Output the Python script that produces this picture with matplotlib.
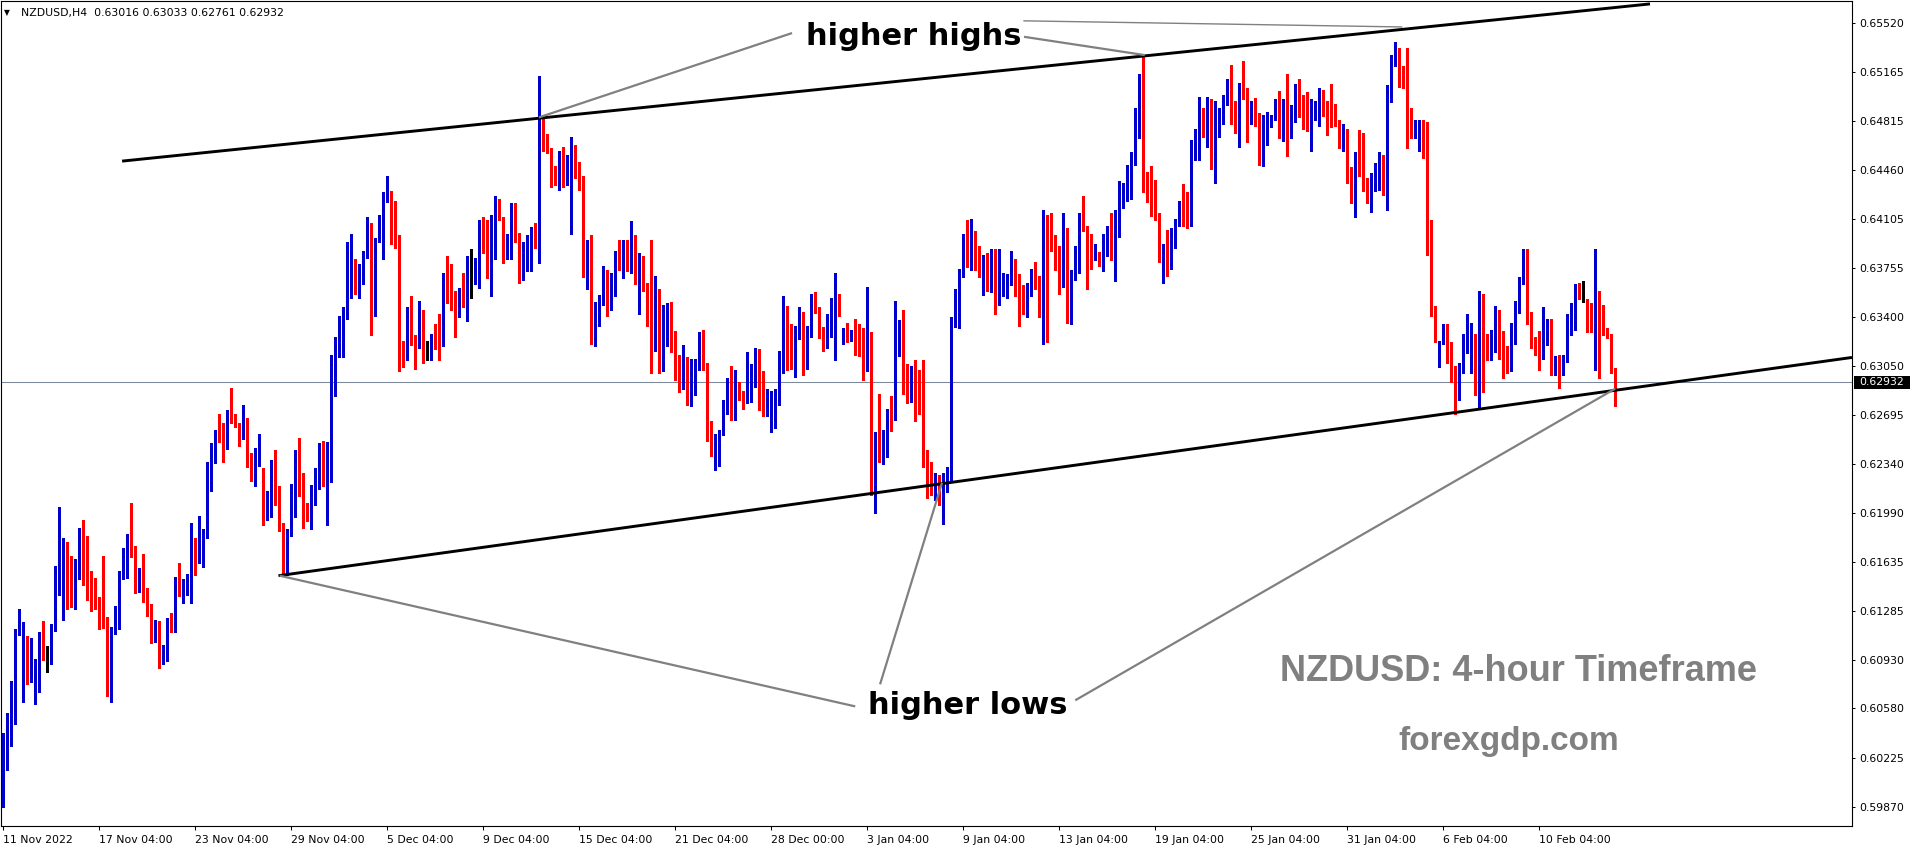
import matplotlib
matplotlib.use("Agg")
import matplotlib.pyplot as plt
from matplotlib.patches import Rectangle
from matplotlib.transforms import blended_transform_factory
import numpy as np

# ---------------- data (prices in pips, 1 pip = 0.0001) ----------------
symbol_header = "NZDUSD,H4  0.63016 0.63033 0.62761 0.62932"
PIP = 1e-4

opens = [
    5988, 6036, 6051, 6078, 6112, 6092, 6097, 6078, 6082, 6088,
    6110, 6093, 6094, 6116, 6152, 6161, 6177, 6151, 6144, 6161,
    6186, 6159, 6149, 6142, 6135, 6134, 6122, 6069, 6113, 6124,
    6154, 6164, 6172, 6172, 6148, 6152, 6138, 6130, 6107, 6116,
    6095, 6092, 6120, 6115, 6147, 6141, 6142, 6149, 6171, 6167,
    6178, 6183, 6220, 6243, 6257, 6254, 6252, 6271, 6269, 6262,
    6252, 6257, 6234, 6227, 6237, 6219, 6198, 6199, 6227, 6218,
    6189, 6156, 6185, 6212, 6227, 6215, 6197, 6205, 6214, 6221,
    6237, 6219, 6234, 6283, 6317, 6335, 6342, 6365, 6373, 6368,
    6371, 6383, 6408, 6354, 6397, 6382, 6429, 6430, 6406, 6396,
    6316, 6314, 6341, 6326, 6319, 6338, 6318, 6312, 6326, 6325,
    6321, 6370, 6368, 6350, 6340, 6352, 6347, 6369, 6369, 6370,
    6404, 6399, 6372, 6394, 6419, 6408, 6388, 6389, 6419, 6398,
    6378, 6374, 6391, 6394, 6392, 6483, 6464, 6462, 6446, 6442,
    6452, 6444, 6444, 6453, 6447, 6441, 6379, 6383, 6326, 6341,
    6349, 6359, 6348, 6370, 6379, 6370, 6391, 6373, 6394, 6367,
    6383, 6358, 6344, 6316, 6358, 6321, 6324, 6345, 6318, 6308,
    6293, 6309, 6284, 6291, 6307, 6311, 6307, 6257, 6241, 6240,
    6256, 6276, 6287, 6281, 6290, 6285, 6293, 6298, 6302, 6311,
    6278, 6271, 6275, 6276, 6278, 6300, 6330, 6314, 6308, 6331,
    6341, 6312, 6326, 6352, 6341, 6329, 6325, 6334, 6350, 6355,
    6326, 6330, 6324, 6326, 6318, 6313, 6304, 6326, 6247, 6252,
    6240, 6245, 6272, 6272, 6326, 6337, 6303, 6291, 6303, 6284,
    6281, 6238, 6222, 6215, 6222, 6212, 6220, 6226, 6338, 6337,
    6374, 6396, 6390, 6399, 6388, 6363, 6382, 6378, 6382, 6354,
    6361, 6354, 6368, 6380, 6369, 6355, 6346, 6365, 6370, 6364,
    6361, 6413, 6399, 6391, 6388, 6363, 6394, 6343, 6372, 6374,
    6414, 6406, 6394, 6381, 6386, 6376, 6388, 6399, 6394, 6398,
    6424, 6424, 6449, 6451, 6487, 6507, 6440, 6427, 6425, 6415,
    6386, 6392, 6388, 6391, 6408, 6416, 6416, 6407, 6460, 6467,
    6490, 6473, 6494, 6453, 6476, 6486, 6495, 6507, 6486, 6481,
    6507, 6499, 6481, 6484, 6479, 6456, 6464, 6478, 6483, 6490,
    6476, 6490, 6470, 6484, 6503, 6495, 6486, 6484, 6489, 6479,
    6504, 6491, 6490, 6487, 6481, 6464, 6475, 6448, 6427, 6455,
    6455, 6438, 6432, 6432, 6437, 6453, 6434, 6504, 6522, 6531,
    6520, 6515, 6482, 6471, 6474, 6477, 6471, 6395, 6347, 6306,
    6322, 6334, 6309, 6298, 6282, 6303, 6323, 6323, 6328, 6293,
    6351, 6322, 6315, 6321, 6344, 6323, 6313, 6305, 6322, 6345,
    6364, 6388, 6343, 6324, 6320, 6315, 6327, 6334, 6302, 6309,
    6301, 6309, 6328, 6335, 6362, 6353, 6353, 6342, 6339, 6349,
    6335, 6331, 6327, 6301.6,
]

highs = [
    6040, 6055, 6078, 6115, 6130, 6120, 6110, 6109, 6094, 6113,
    6121, 6103, 6119, 6161, 6203, 6181, 6178, 6168, 6166, 6188,
    6194, 6182, 6157, 6152, 6138, 6168, 6124, 6117, 6132, 6157,
    6174, 6184, 6206, 6175, 6159, 6169, 6145, 6133, 6122, 6121,
    6104, 6123, 6127, 6153, 6163, 6151, 6155, 6192, 6181, 6197,
    6187, 6236, 6249, 6259, 6270, 6264, 6273, 6289, 6270, 6264,
    6277, 6267, 6242, 6246, 6256, 6231, 6215, 6237, 6244, 6218,
    6192, 6187, 6220, 6244, 6253, 6228, 6206, 6219, 6231, 6249,
    6251, 6250, 6313, 6326, 6341, 6347, 6394, 6400, 6382, 6378,
    6388, 6412, 6408, 6397, 6414, 6430, 6442, 6431, 6424, 6399,
    6323, 6347, 6355, 6327, 6352, 6345, 6323, 6328, 6335, 6342,
    6372, 6384, 6378, 6359, 6361, 6372, 6384, 6389, 6383, 6410,
    6412, 6410, 6414, 6427, 6425, 6412, 6400, 6422, 6422, 6401,
    6394, 6399, 6405, 6408, 6514, 6486, 6472, 6462, 6449, 6460,
    6463, 6457, 6470, 6464, 6452, 6442, 6396, 6399, 6351, 6356,
    6377, 6374, 6372, 6388, 6396, 6396, 6396, 6409, 6399, 6386,
    6384, 6365, 6396, 6370, 6360, 6349, 6350, 6351, 6330, 6313,
    6320, 6311, 6310, 6310, 6329, 6331, 6307, 6265, 6256, 6259,
    6280, 6296, 6305, 6302, 6293, 6287, 6315, 6306, 6318, 6317,
    6301, 6288, 6287, 6288, 6316, 6355, 6348, 6335, 6334, 6347,
    6344, 6334, 6357, 6358, 6347, 6333, 6342, 6354, 6372, 6357,
    6332, 6336, 6331, 6339, 6335, 6332, 6362, 6329, 6257, 6285,
    6259, 6274, 6283, 6352, 6338, 6345, 6306, 6305, 6309, 6302,
    6309, 6244, 6236, 6228, 6226, 6228, 6232, 6340, 6360, 6375,
    6400, 6410, 6411, 6402, 6391, 6385, 6386, 6389, 6389, 6389,
    6372, 6371, 6388, 6382, 6371, 6363, 6365, 6375, 6380, 6370,
    6417, 6414, 6415, 6399, 6391, 6415, 6404, 6374, 6391, 6415,
    6427, 6406, 6400, 6393, 6387, 6400, 6406, 6415, 6417, 6438,
    6437, 6450, 6459, 6491, 6515, 6528, 6445, 6449, 6439, 6415,
    6393, 6403, 6404, 6411, 6424, 6436, 6430, 6468, 6476, 6499,
    6491, 6499, 6497, 6496, 6491, 6500, 6512, 6522, 6496, 6509,
    6525, 6505, 6496, 6498, 6487, 6486, 6488, 6486, 6497, 6503,
    6497, 6515, 6493, 6508, 6512, 6500, 6502, 6497, 6496, 6505,
    6504, 6496, 6508, 6494, 6482, 6479, 6476, 6448, 6459, 6475,
    6473, 6440, 6444, 6451, 6459, 6457, 6507, 6529, 6538, 6534,
    6521, 6534, 6491, 6482, 6482, 6482, 6481, 6410, 6348, 6323,
    6335, 6335, 6322, 6305, 6307, 6328, 6342, 6336, 6328, 6359,
    6357, 6328, 6331, 6348, 6345, 6330, 6319, 6336, 6352, 6369,
    6389, 6389, 6344, 6326, 6330, 6347, 6339, 6339, 6312, 6313,
    6313, 6342, 6350, 6364, 6365, 6366, 6353, 6350, 6389, 6359,
    6349, 6332, 6328, 6303.3,
]

lows = [
    5987, 6014, 6031, 6047, 6111, 6063, 6076, 6077, 6061, 6070,
    6093, 6084, 6090, 6114, 6140, 6122, 6130, 6131, 6130, 6151,
    6147, 6136, 6128, 6130, 6115, 6116, 6067, 6063, 6112, 6115,
    6151, 6152, 6167, 6141, 6142, 6135, 6125, 6105, 6106, 6087,
    6090, 6092, 6113, 6113, 6139, 6134, 6140, 6134, 6154, 6163,
    6160, 6181, 6215, 6235, 6250, 6236, 6245, 6264, 6261, 6247,
    6252, 6232, 6222, 6218, 6233, 6190, 6194, 6196, 6205, 6186,
    6154, 6154, 6182, 6196, 6211, 6188, 6193, 6187, 6205, 6216,
    6218, 6190, 6221, 6283, 6311, 6311, 6339, 6354, 6357, 6354,
    6364, 6383, 6327, 6341, 6394, 6382, 6423, 6393, 6390, 6301,
    6304, 6309, 6320, 6303, 6318, 6307, 6309, 6309, 6317, 6309,
    6319, 6350, 6345, 6326, 6340, 6347, 6337, 6354, 6364, 6361,
    6386, 6368, 6355, 6382, 6410, 6379, 6382, 6382, 6394, 6365,
    6367, 6373, 6373, 6390, 6379, 6460, 6458, 6434, 6435, 6432,
    6434, 6435, 6400, 6440, 6432, 6369, 6360, 6321, 6319, 6334,
    6349, 6341, 6345, 6355, 6374, 6368, 6373, 6372, 6364, 6342,
    6359, 6334, 6300, 6316, 6300, 6301, 6319, 6315, 6295, 6286,
    6288, 6277, 6276, 6284, 6302, 6302, 6251, 6240, 6230, 6233,
    6255, 6270, 6266, 6266, 6280, 6274, 6278, 6279, 6290, 6273,
    6269, 6269, 6257, 6260, 6277, 6300, 6302, 6303, 6297, 6324,
    6298, 6303, 6326, 6343, 6325, 6316, 6318, 6326, 6309, 6341,
    6321, 6322, 6323, 6313, 6312, 6295, 6301, 6212, 6199, 6236,
    6234, 6239, 6258, 6266, 6312, 6285, 6278, 6279, 6265, 6270,
    6232, 6210, 6212, 6208, 6205, 6191, 6214, 6222, 6333, 6332,
    6369, 6376, 6374, 6374, 6369, 6356, 6359, 6358, 6342, 6349,
    6355, 6354, 6363, 6355, 6334, 6342, 6340, 6355, 6360, 6340,
    6321, 6322, 6388, 6374, 6357, 6362, 6336, 6335, 6367, 6372,
    6402, 6360, 6375, 6381, 6377, 6373, 6384, 6381, 6366, 6398,
    6419, 6424, 6425, 6450, 6469, 6430, 6423, 6413, 6410, 6380,
    6365, 6370, 6375, 6390, 6406, 6406, 6404, 6406, 6453, 6453,
    6470, 6463, 6447, 6437, 6470, 6479, 6493, 6479, 6473, 6463,
    6497, 6466, 6479, 6478, 6450, 6449, 6464, 6477, 6482, 6469,
    6467, 6456, 6469, 6481, 6484, 6476, 6474, 6460, 6482, 6478,
    6485, 6471, 6477, 6478, 6462, 6460, 6437, 6422, 6412, 6442,
    6431, 6422, 6416, 6431, 6432, 6428, 6417, 6495, 6521, 6506,
    6505, 6462, 6469, 6469, 6460, 6455, 6385, 6341, 6322, 6304,
    6321, 6307, 6293, 6270, 6280, 6300, 6314, 6300, 6284, 6275,
    6286, 6309, 6309, 6315, 6310, 6296, 6300, 6301, 6321, 6343,
    6364, 6335, 6318, 6313, 6302, 6310, 6320, 6298, 6298, 6289,
    6298, 6308, 6327, 6331, 6353, 6351, 6329, 6329, 6302, 6296,
    6327, 6325, 6300, 6276.1,
]

closes = [
    6036, 6051, 6078, 6112, 6117, 6097, 6077, 6082, 6089, 6103,
    6093, 6093, 6117, 6151, 6161, 6175, 6155, 6144, 6161, 6186,
    6159, 6149, 6146, 6134, 6133, 6121, 6069, 6115, 6128, 6155,
    6164, 6172, 6171, 6148, 6149, 6138, 6130, 6107, 6116, 6092,
    6099, 6119, 6116, 6147, 6142, 6143, 6151, 6171, 6167, 6178,
    6184, 6221, 6242, 6256, 6253, 6252, 6271, 6268, 6262, 6252,
    6257, 6233, 6227, 6237, 6249, 6198, 6200, 6228, 6217, 6188,
    6161, 6186, 6213, 6227, 6214, 6196, 6194, 6215, 6221, 6237,
    6219, 6234, 6302, 6319, 6335, 6343, 6365, 6373, 6364, 6371,
    6384, 6407, 6354, 6397, 6409, 6430, 6430, 6405, 6396, 6316,
    6312, 6341, 6325, 6320, 6338, 6319, 6318, 6327, 6325, 6321,
    6370, 6367, 6352, 6340, 6353, 6347, 6368, 6369, 6378, 6404,
    6398, 6372, 6395, 6419, 6416, 6388, 6390, 6419, 6397, 6377,
    6381, 6393, 6394, 6392, 6483, 6464, 6462, 6445, 6442, 6452,
    6444, 6445, 6453, 6446, 6441, 6379, 6383, 6326, 6342, 6351,
    6359, 6348, 6370, 6379, 6377, 6391, 6374, 6394, 6367, 6383,
    6363, 6344, 6316, 6358, 6321, 6324, 6345, 6318, 6307, 6293,
    6309, 6284, 6294, 6308, 6311, 6306, 6257, 6241, 6249, 6256,
    6276, 6287, 6281, 6290, 6281, 6274, 6298, 6302, 6311, 6278,
    6272, 6273, 6276, 6279, 6301, 6330, 6313, 6308, 6331, 6341,
    6312, 6327, 6349, 6344, 6329, 6325, 6335, 6350, 6355, 6342,
    6330, 6324, 6326, 6315, 6312, 6304, 6326, 6247, 6251, 6242,
    6252, 6272, 6271, 6327, 6337, 6303, 6292, 6303, 6284, 6280,
    6237, 6222, 6215, 6222, 6212, 6220, 6226, 6338, 6346, 6374,
    6396, 6390, 6399, 6388, 6371, 6382, 6378, 6382, 6354, 6361,
    6371, 6370, 6380, 6369, 6353, 6346, 6364, 6370, 6363, 6361,
    6413, 6399, 6393, 6388, 6363, 6394, 6343, 6373, 6384, 6414,
    6405, 6393, 6381, 6386, 6379, 6388, 6399, 6394, 6399, 6424,
    6427, 6450, 6452, 6487, 6507, 6438, 6438, 6424, 6415, 6386,
    6392, 6388, 6394, 6409, 6416, 6415, 6407, 6460, 6471, 6490,
    6473, 6494, 6453, 6476, 6486, 6496, 6507, 6485, 6481, 6507,
    6502, 6481, 6483, 6479, 6457, 6466, 6478, 6484, 6490, 6476,
    6489, 6469, 6488, 6503, 6494, 6486, 6484, 6489, 6492, 6504,
    6491, 6489, 6486, 6480, 6468, 6475, 6448, 6427, 6455, 6454,
    6438, 6432, 6433, 6438, 6453, 6433, 6505, 6522, 6531, 6520,
    6514, 6482, 6475, 6475, 6476, 6471, 6394, 6346, 6323, 6322,
    6334, 6308, 6297, 6282, 6304, 6323, 6324, 6327, 6293, 6350,
    6325, 6316, 6321, 6344, 6323, 6311, 6305, 6322, 6347, 6365,
    6388, 6343, 6326, 6320, 6315, 6327, 6334, 6302, 6310, 6301,
    6310, 6329, 6336, 6361, 6355, 6353, 6342, 6339, 6349, 6334,
    6333, 6327, 6301, 6293.2,
]

x_tick_bars = [0, 24, 48, 72, 96, 120, 144, 168, 192, 216, 240, 264, 288, 312, 336, 360, 384]
x_tick_labels = ["11 Nov 2022", "17 Nov 04:00", "23 Nov 04:00", "29 Nov 04:00", "5 Dec 04:00",
                 "9 Dec 04:00", "15 Dec 04:00", "21 Dec 04:00", "28 Dec 00:00", "3 Jan 04:00",
                 "9 Jan 04:00", "13 Jan 04:00", "19 Jan 04:00", "25 Jan 04:00", "31 Jan 04:00",
                 "6 Feb 04:00", "10 Feb 04:00"]
y_ticks = [0.65520, 0.65165, 0.64815, 0.64460, 0.64105, 0.63755, 0.63400, 0.63050, 0.62695,
           0.62340, 0.61990, 0.61635, 0.61285, 0.60930, 0.60580, 0.60225, 0.59870]
last_price = 0.62932

# trend lines and pointer lines: (bar index, price) end points
upper_channel = ((29.7, 0.64525), (411.7, 0.65658))
lower_channel = ((68.8, 0.61537), (462.2, 0.63110))
high_pointers = [((197.2, 0.65448), (133.9, 0.64840)),
                 ((255.2, 0.65421), (285.4, 0.65289))]
thin_pointer = ((255.2, 0.65536), (349.6, 0.65492))
low_pointers = [((213.0, 0.60595), (69.1, 0.61537)),
                ((219.2, 0.60754), (234.7, 0.62207)),
                ((268.0, 0.60639), (403.0, 0.62885))]

# ---------------- figure ----------------
W, H, DPI = 1916, 850, 100
fig = plt.figure(figsize=(W / DPI, H / DPI), dpi=DPI)
fig.patch.set_facecolor("white")
ax = fig.add_axes([1 / W, (H - 826) / H, 1851 / W, 825 / H])
ax.set_facecolor("white")

o = np.array(opens) * PIP
h = np.array(highs) * PIP
l = np.array(lows) * PIP
c = np.array(closes) * PIP
x = np.arange(len(o))
BLUE, RED = "#0000CD", "#FF0000"
colors = np.where(c > o, BLUE, np.where(c < o, RED, "#000000"))

ax.set_xlim(-0.575, 462.2)
ax.set_ylim(0.59733, 0.65679)

ax.axhline(last_price, color="#7a8899", lw=0.75, zorder=1)

ax.vlines(x, l, h, colors=colors, linewidth=0.75, antialiased=False, zorder=2)
body_bottom = np.minimum(o, c)
body_h = np.maximum(np.abs(c - o), 0.75 * PIP)
ax.bar(x, body_h, bottom=body_bottom, width=0.8, color=colors, linewidth=0,
       antialiased=False, zorder=3)

for seg in (upper_channel, lower_channel):
    ax.plot([seg[0][0], seg[1][0]], [seg[0][1], seg[1][1]], color="black", lw=2.1,
            solid_capstyle="butt", zorder=4, clip_on=True)
for seg in high_pointers + low_pointers:
    ax.plot([seg[0][0], seg[1][0]], [seg[0][1], seg[1][1]], color="#808080", lw=1.6,
            solid_capstyle="butt", zorder=4)
ax.plot([thin_pointer[0][0], thin_pointer[1][0]], [thin_pointer[0][1], thin_pointer[1][1]],
        color="#808080", lw=1.0, zorder=4)

ax.text(0.4932, 0.9464, "higher highs", transform=ax.transAxes, ha="center", va="baseline",
        fontsize=22, fontweight="bold", family="DejaVu Sans", color="black", zorder=6)
ax.text(0.5224, 0.1362, "higher lows", transform=ax.transAxes, ha="center", va="baseline",
        fontsize=22, fontweight="bold", family="DejaVu Sans", color="black", zorder=6)
ax.text(0.8196, 0.1762, "NZDUSD: 4-hour Timeframe", transform=ax.transAxes, ha="center",
        va="baseline", fontsize=26, fontweight="bold", family="Liberation Sans",
        color="#808080", zorder=6)
ax.text(0.8147, 0.0918, "forexgdp.com", transform=ax.transAxes, ha="center",
        va="baseline", fontsize=24, fontweight="bold", family="Liberation Sans",
        color="#808080", zorder=6)

# axes / ticks
for sp in ax.spines.values():
    sp.set_color("black")
    sp.set_linewidth(0.8)
ax.yaxis.tick_right()
ax.set_yticks(y_ticks)
ax.set_yticklabels([f"{v:.5f}" for v in y_ticks])
ax.tick_params(axis="y", which="both", direction="out", length=2.2, width=0.75, pad=3.0,
               labelsize=7.8, colors="black", left=False)
ax.set_xticks(x_tick_bars)
ax.set_xticklabels(x_tick_labels)
ax.tick_params(axis="x", direction="out", length=2.9, width=0.75, pad=3.6, labelsize=7.8,
               colors="black")
for lbl in ax.get_xticklabels():
    lbl.set_ha("left")

# current price box
blend = blended_transform_factory(ax.transAxes, ax.transData)
y0, y1 = ax.get_ylim()
px = (y1 - y0) / 825.0
ax.add_patch(Rectangle((1.00108, last_price - 6.5 * px), 56 / 1851, 13 * px,
                       transform=blend, facecolor="black", edgecolor="none", clip_on=False,
                       zorder=7))
ax.text(1.0038, last_price, f"{last_price:.5f}", transform=blend, ha="left", va="center",
        fontsize=7.8, color="white", zorder=8, clip_on=False)

# header
fig.text(4 / W, 1 - 13 / H, "\u25BC", fontsize=5.5, va="center", ha="left", color="black")
fig.text(21 / W, 1 - 13 / H, symbol_header, fontsize=7.8, va="center", ha="left", color="black")

fig.savefig("out.png", dpi=DPI, facecolor="white")
